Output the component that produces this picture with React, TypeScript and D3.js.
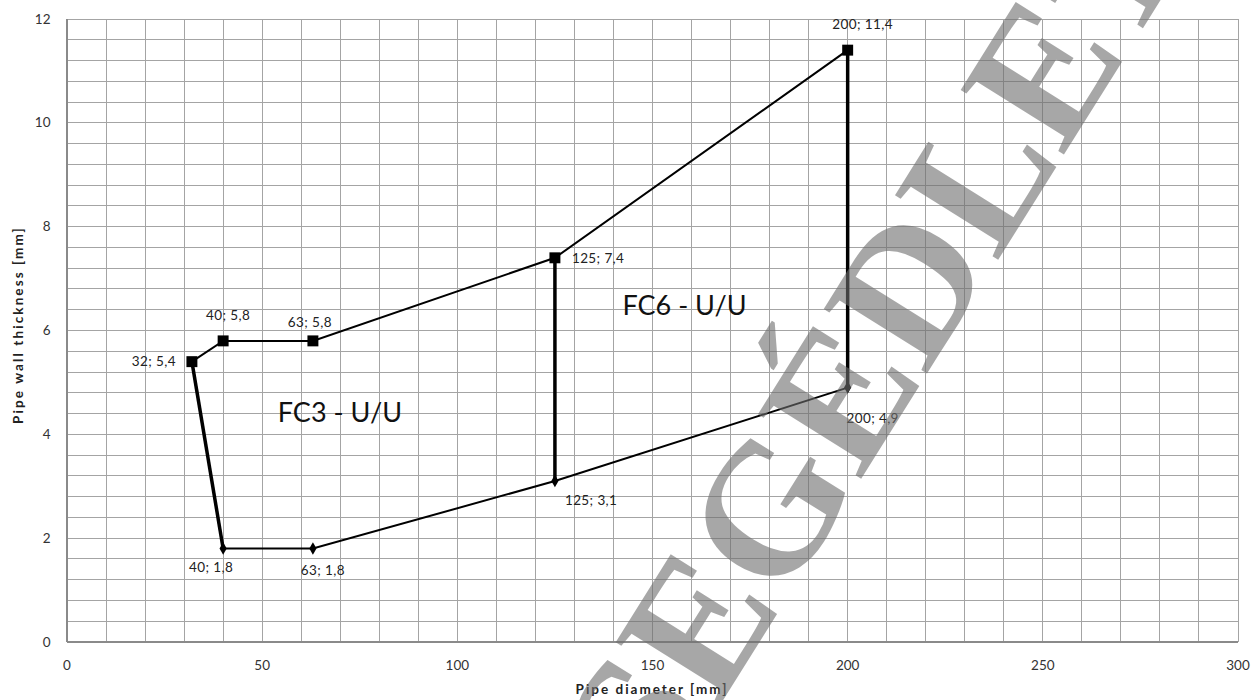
import React from "react";
import * as d3 from "d3";

// ---- data ----
const upperX = [32, 40, 63, 125, 200];
const upperY = [5.4, 5.8, 5.8, 7.4, 11.4];
const lowerX = [40, 63, 125, 200];
const lowerY = [1.8, 1.8, 3.1, 4.9];
const connectorFrom = [
  [32, 5.4],
  [125, 7.4],
  [200, 11.4],
];
const connectorTo = [
  [40, 1.8],
  [125, 3.1],
  [200, 4.9],
];
const xTickLabels = [0, 50, 100, 150, 200, 250, 300];
const yTickLabels = [0, 2, 4, 6, 8, 10, 12];
const regionNames = ["FC3 - U/U", "FC6 - U/U"];
const regionAt = [
  [54, 4.24],
  [142.3, 6.3],
];
const xTitle = "Pipe diameter [mm]";
const yTitle = "Pipe wall thickness  [mm]";
const watermark = "SEGÉDLET";

// label offsets (px) and anchors for point labels
const upperLabelDx = [-16, 5, -3, 17, 15];
const upperLabelDy = [4, -21, -14, 5, -21];
const upperLabelAnchor = ["end", "middle", "middle", "start", "middle"];
const lowerLabelDx = [-12, 10, 10, 25];
const lowerLabelDy = [23, 26, 24, 35];
const lowerLabelAnchor = ["middle", "middle", "start", "middle"];

const fmt = (x: number, y: number) => `${x}; ${String(y).replace(".", ",")}`;

export default function App() {
  const W = 1255;
  const H = 700;
  const x = d3.scaleLinear().domain([0, 300]).range([67, 1238]);
  const y = d3.scaleLinear().domain([0, 12]).range([642, 19]);

  const vGrid = d3.range(0, 301, 10);
  const hGrid = d3.range(0, 31).map((i) => i * 0.4);

  const line = d3
    .line<[number, number]>()
    .x((d) => x(d[0]))
    .y((d) => y(d[1]));

  const upper = upperX.map((v, i) => [v, upperY[i]] as [number, number]);
  const lower = lowerX.map((v, i) => [v, lowerY[i]] as [number, number]);

  const square = d3.symbol().type(d3.symbolSquare).size(120)()!;
  const diamond = d3.symbol().type(d3.symbolDiamond).size(45)()!;

  const font = "Lato, 'Open Sans', sans-serif";
  const gridColor = "#a4a4a4";

  return (
    <svg
      width={W}
      height={H}
      viewBox={`0 0 ${W} ${H}`}
      style={{ position: "absolute", left: 0, top: 0, background: "#fff" }}
    >
      <rect x={0} y={0} width={W} height={H} fill="#fff" />
      {/* grid */}
      <g stroke={gridColor} strokeWidth={1} shapeRendering="crispEdges">
        {vGrid.map((v) => (
          <line key={"v" + v} x1={x(v)} x2={x(v)} y1={y(0)} y2={y(12)} />
        ))}
        {hGrid.map((v) => (
          <line key={"h" + v} x1={x(0)} x2={x(300)} y1={y(v)} y2={y(v)} />
        ))}
      </g>
      {/* axes */}
      <g stroke="#8a8a8a" strokeWidth={1.2} shapeRendering="crispEdges">
        <line x1={x(0)} x2={x(0)} y1={y(0)} y2={y(12)} />
        <line x1={x(0)} x2={x(300)} y1={y(0)} y2={y(0)} />
      </g>
      {/* tick labels */}
      <g fontFamily={font} fontSize={13.5} fill="#333">
        {yTickLabels.map((v) => (
          <text key={"yt" + v} x={50.5} y={y(v) + 4.5} textAnchor="end">
            {v}
          </text>
        ))}
        {xTickLabels.map((v) => (
          <text key={"xt" + v} x={x(v)} y={670} textAnchor="middle">
            {v}
          </text>
        ))}
      </g>
      {/* axis titles */}
      <text
        x={652}
        y={694}
        textAnchor="middle"
        fontFamily={font}
        fontWeight="bold"
        fontSize={13.5}
        letterSpacing={2}
        fill="#222"
      >
        {xTitle}
      </text>
      <text
        transform={`translate(23,325) rotate(-90)`}
        textAnchor="middle"
        fontFamily={font}
        fontWeight="bold"
        fontSize={13.5}
        letterSpacing={2.1}
        fill="#222"
      >
        {yTitle}
      </text>
      {/* connectors */}
      <g stroke="#000" strokeWidth={3.5} fill="none">
        {connectorFrom.map((f, i) => (
          <line
            key={"c" + i}
            x1={x(f[0])}
            y1={y(f[1])}
            x2={x(connectorTo[i][0])}
            y2={y(connectorTo[i][1])}
          />
        ))}
      </g>
      {/* series lines */}
      <path d={line(upper)!} fill="none" stroke="#000" strokeWidth={2} />
      <path d={line(lower)!} fill="none" stroke="#000" strokeWidth={2} />
      {/* markers */}
      {upper.map((d, i) => (
        <path key={"us" + i} d={square} transform={`translate(${x(d[0])},${y(d[1])})`} fill="#000" />
      ))}
      {lower.map((d, i) => (
        <path key={"ld" + i} d={diamond} transform={`translate(${x(d[0])},${y(d[1])})`} fill="#000" />
      ))}
      {/* point labels */}
      <g fontFamily={font} fontSize={13.5} fill="#222" letterSpacing={0.4}>
        {upper.map((d, i) => (
          <text
            key={"ul" + i}
            x={x(d[0]) + upperLabelDx[i]}
            y={y(d[1]) + upperLabelDy[i]}
            textAnchor={upperLabelAnchor[i] as any}
          >
            {fmt(d[0], d[1])}
          </text>
        ))}
        {lower.map((d, i) => (
          <text
            key={"ll" + i}
            x={x(d[0]) + lowerLabelDx[i]}
            y={y(d[1]) + lowerLabelDy[i]}
            textAnchor={lowerLabelAnchor[i] as any}
          >
            {fmt(d[0], d[1])}
          </text>
        ))}
      </g>
      {/* region names */}
      <g fontFamily={font} fontSize={27} fill="#111">
        {regionNames.map((n, i) => (
          <text key={"rn" + i} x={x(regionAt[i][0])} y={y(regionAt[i][1])}>
            {n}
          </text>
        ))}
      </g>
      {/* watermark */}
      <text
        transform={`translate(928,372) rotate(-58)`}
        textAnchor="middle"
        fontFamily="'Liberation Serif', 'DejaVu Serif', serif"
        fontWeight="bold"
        fontSize={186}
        fill="#6e6e6e"
        opacity={0.6}
        style={{ pointerEvents: "none" }}
      >
        {watermark}
      </text>
    </svg>
  );
}
